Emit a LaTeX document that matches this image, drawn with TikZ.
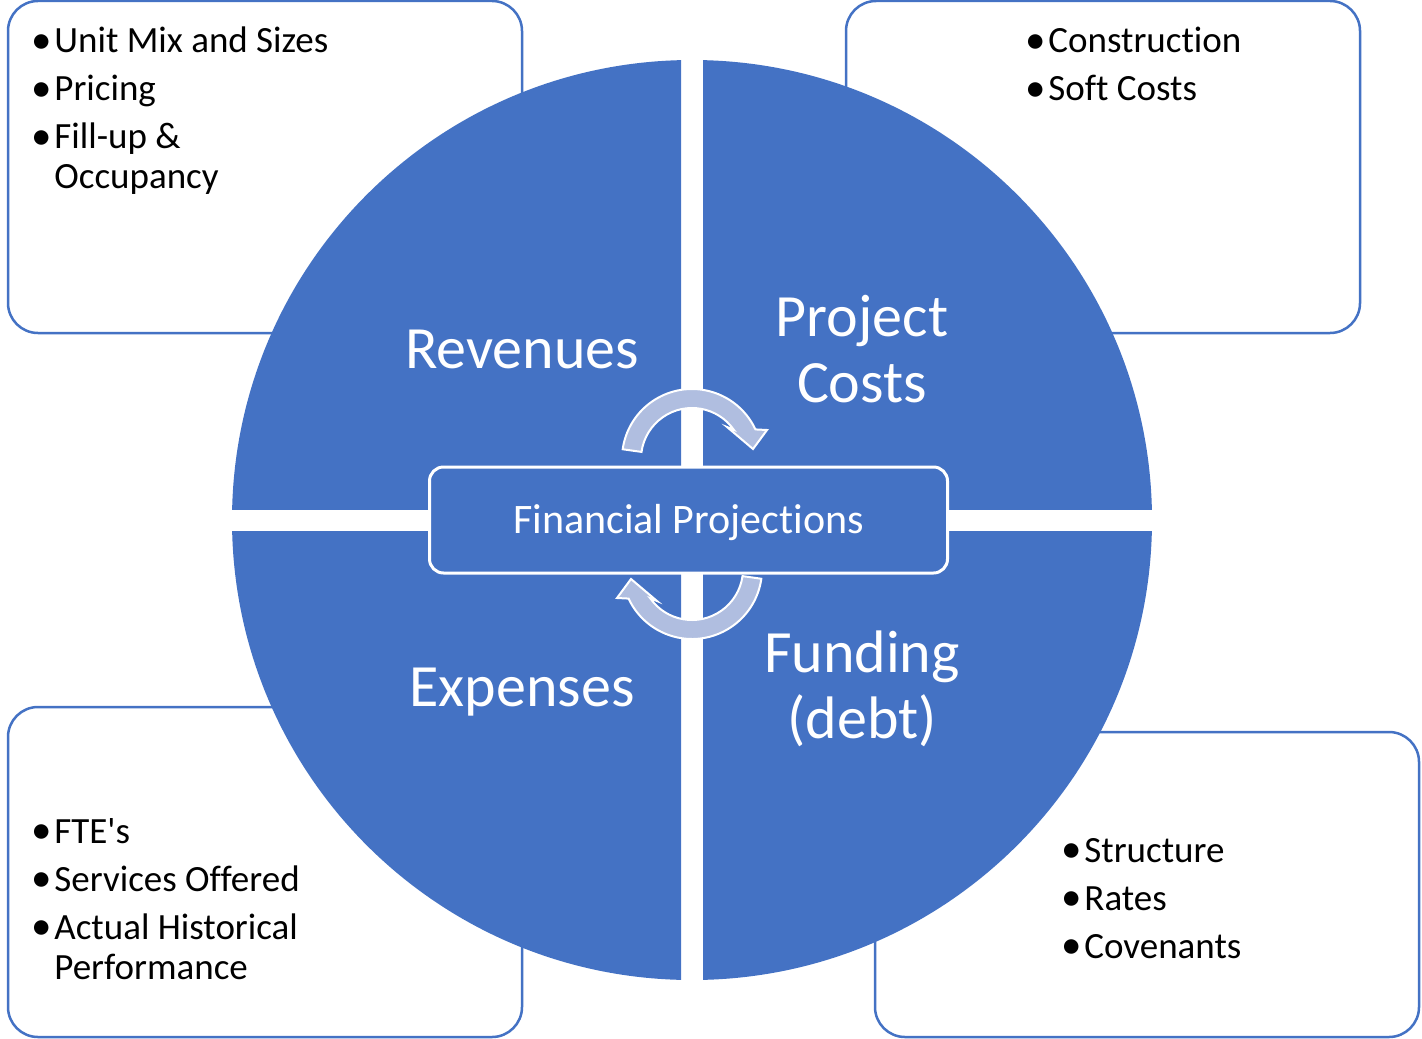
\documentclass[tikz,border=0pt]{standalone}
\usepackage{fontspec}
\setmainfont{Carlito}[Ligatures=NoCommon]
\usepackage{tikz}
\definecolor{quadblue}{HTML}{4472C4}
\definecolor{arrowgray}{HTML}{B0BEE0}
\def\quadrant(#1)(#2){\begin{scope}\clip (#1) rectangle (#2); \fill[quadblue] (692, 520) circle (460); \end{scope}}
\def\cyclearrow(#1)(#2){\begin{scope}[shift={(#1)}, rotate=#2]
	\draw[line width=1pt, color=white, fill=arrowgray, line join=miter] (188:70) arc[start angle=188, end angle=335, radius=70] -- (75, -29) -- (61, -10) -- (35, -32) -- (325:51) arc[start angle=325, end angle=188, radius=51] -- cycle;
	\end{scope}}
\tikzset{
	sidebox/.style={line width=1.25pt, color=quadblue, fill=white, rounded corners=15pt},
	quadlabel/.style={text=white, anchor=base, inner sep=0pt, font=\fontsize{30}{33}\selectfont},
	bulletlist/.style={text=black, anchor=base west, inner sep=0pt, font=\fontsize{18.5}{20}\selectfont}
}
\def\bul{\makebox[11.5pt][l]{\raisebox{-0.3pt}{\fontsize{20.5}{20}\selectfont\textbullet}}}

\begin{document}
\begin{tikzpicture}[x=0.5pt, y=-0.5pt]
			%%%%% START %%%%%
			\useasboundingbox (0, 0) rectangle (1422, 1038);
			
			\draw[sidebox] (8, 1) rectangle (522, 333);
			\draw[sidebox] (846, 1) rectangle (1360, 333);
			\draw[sidebox] (8, 707) rectangle (522, 1037);
			\draw[sidebox] (875, 732) rectangle (1419, 1037);
			
			\quadrant(0, 0)(681, 509)
			\quadrant(703, 0)(1422, 509)
			\quadrant(0, 531)(681, 1038)
			\quadrant(703, 531)(1422, 1038)
			
			\node[draw=white, line width=1.5pt, fill=quadblue, rounded corners=7pt, minimum width=259pt, minimum height=53pt, text=white, font=\fontsize{21}{25}\selectfont, text height=13.5pt, text depth=0pt] (finproj) at (688.5, 520) {Financial Projections};
			
			\cyclearrow(692, 459)(0)
			\cyclearrow(692, 569)(180)
			
			\node[quadlabel] (revenues) at (522, 368) {Revenues};
			\node[quadlabel] (projcosts) at (862, 336) {\begin{tabular}[t]{@{}c@{}}Project\\Costs\end{tabular}};
			\node[quadlabel] (expenses) at (522, 706) {Expenses};
			\node[quadlabel] (funding) at (862, 672) {\begin{tabular}[t]{@{}c@{}}Funding\\(debt)\end{tabular}};
			
			\node[bulletlist] (revlist) at (31, 53) {\begin{tabular}[t]{@{}l@{}l@{}}\bul & Unit Mix and Sizes\\[4pt] \bul & Pricing\\[4pt] \bul & Fill-up \&\\ & Occupancy\end{tabular}};
			\node[bulletlist] (costlist) at (1025, 53) {\begin{tabular}[t]{@{}l@{}l@{}}\bul & Construction\\[4pt] \bul & Soft Costs\end{tabular}};
			\node[bulletlist] (explist) at (31, 843) {\begin{tabular}[t]{@{}l@{}l@{}}\bul & FTE\textquotesingle s\\[4pt] \bul & Services Offered\\[4pt] \bul & Actual Historical\\ & Performance\end{tabular}};
			\node[bulletlist] (fundlist) at (1061, 862) {\begin{tabular}[t]{@{}l@{}l@{}}\bul & Structure\\[4pt] \bul & Rates\\[4pt] \bul & Covenants\end{tabular}};
			
			%%%%% END %%%%%
		\end{tikzpicture}
\end{document}
